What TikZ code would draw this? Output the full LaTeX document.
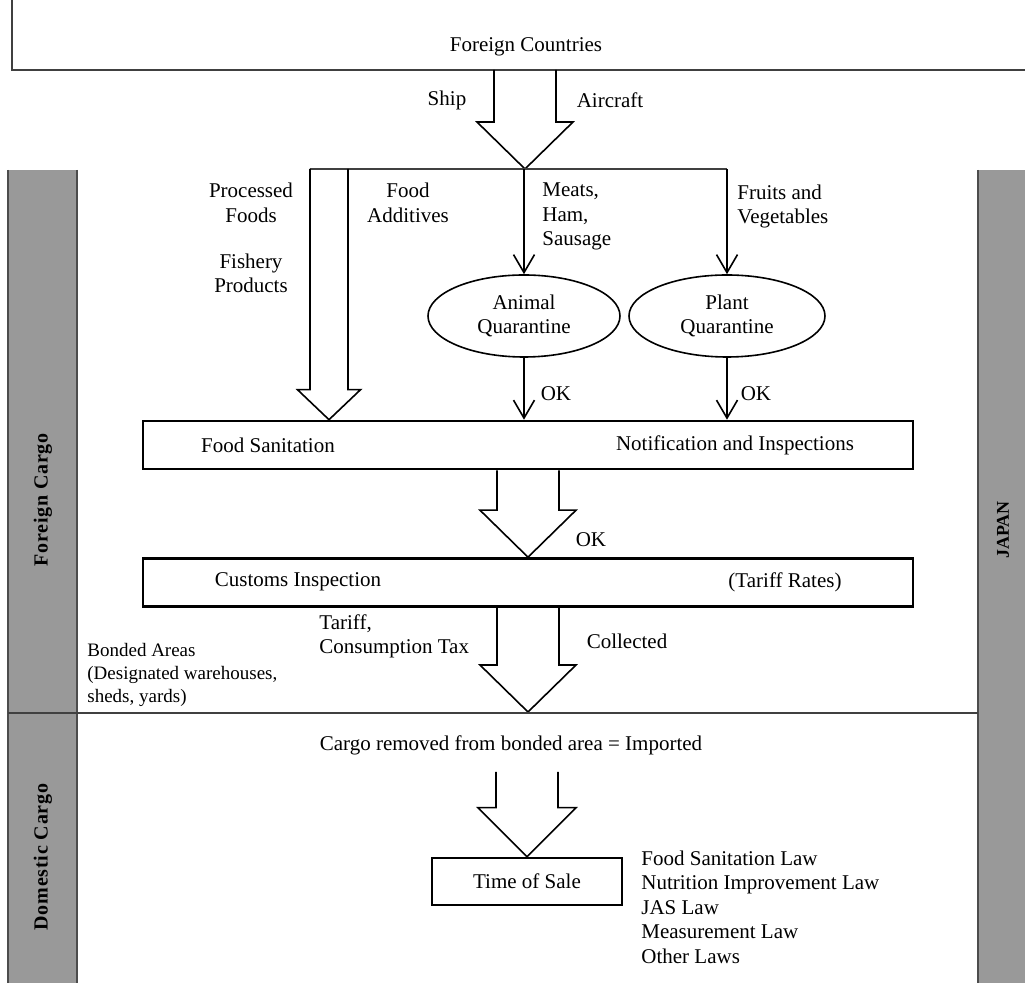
\documentclass[tikz,border=0pt]{standalone}
\usepackage{fontspec}
\setmainfont{Liberation Serif}
\newfontfamily\spacedfont[LetterSpace=4]{Liberation Serif}
\usetikzlibrary{shapes.geometric,arrows.meta,calc}

% hollow block arrow: start, tip, half shaft, half head, head length
\newcommand{\hollowarrow}[5]{%
  \draw[hollow] let \p1=(#1), \p2=(#2) in
    (\x2-#3,\y1) -- (\x2-#3,\y2+#5) -- (\x2-#4,\y2+#5) -- (\x2,\y2)
    -- (\x2+#4,\y2+#5) -- (\x2+#3,\y2+#5) -- (\x2+#3,\y1);
}

\begin{document}
\begin{tikzpicture}[x=0.5pt, y=-0.5pt,
  every node/.style={font=\fontsize{10.5}{12.25}\selectfont, inner sep=0pt, align=center},
  frame/.style={draw=black!75, line width=0.8pt},
  barfill/.style={fill=black!40},
  baredge/.style={draw=black!70, line width=0.9pt},
  sidelabel/.style={rotate=90, font=\spacedfont\bfseries\fontsize{10}{11}\selectfont},
  box/.style={draw, line width=1.3pt, minimum height=24pt},
  quarantine/.style={draw, ellipse, line width=0.8pt, minimum width=96pt, minimum height=41pt},
  hollow/.style={line width=0.8pt, line join=miter},
  flow/.style={line width=0.8pt, -{Straight Barb[length=9pt,width=10.5pt]}},
  note/.style={font=\fontsize{9.5}{11.5}\selectfont, align=left}
]
    \useasboundingbox (0,0) rectangle (1025,983);

    % side bars
    \fill[barfill] (8,170) rectangle (77,983);
    \draw[baredge] (8,170) -- (8,983);
    \draw[baredge] (77,170) -- (77,983);
    \fill[barfill] (978,170) rectangle (1025,983);
    \draw[baredge] (978,170) -- (978,983);
    \node[sidelabel] (foreign-cargo) at (43,500) {Foreign Cargo};
    \node[sidelabel] (domestic-cargo) at (43,857) {Domestic Cargo};
    \node[rotate=90, font=\bfseries\fontsize{9}{10}\selectfont] (japan) at (1003,530) {JAPAN};

    % foreign countries
    \draw[frame] (12,0) -- (12,70) -- (1025,70);
    \node (fc) at (526,47) {Foreign Countries};
    \coordinate (fc-out) at (525,70);
    \coordinate (split) at (525,169);
    \node (ship) at (447,100) {Ship};
    \node (aircraft) at (610,100) {Aircraft};
    \hollowarrow{fc-out}{split}{15.5pt}{24pt}{23.5pt}

    % branches
    \coordinate (branch-l) at (310,169);
    \coordinate (branch-r) at (727,169);
    \coordinate (pf-top) at (329,169);
    \coordinate (meat-top) at (524,169);
    \draw[frame] (branch-l) -- (branch-r);

    \node (processed) at (251,203) {Processed\\Foods};
    \node (fishery) at (251,273.5) {Fishery\\Products};
    \node (additives) at (408,203) {Food\\Additives};
    \node[anchor=west, align=left] (meats) at (542,216.5) {Meats,\\Ham,\\Sausage};
    \node[anchor=west, align=left] (fruits) at (737,206.5) {Fruits and\\Vegetables};

    \node[quarantine] (animal) at (524,316) {Animal\\Quarantine};
    \node[quarantine, minimum width=98pt] (plant) at (727,316) {Plant\\Quarantine};

    % food sanitation
    \node[box, minimum width=385pt] (foodbox) at (528,445) {};
    \node (sanitation) at (268,445) {Food Sanitation};
    \node (notification) at (735,445) {Notification and Inspections};

    \draw[flow] (meat-top) -- (animal);
    \draw[flow] (branch-r) -- (plant);
    \draw[flow] (animal) -- (animal |- foodbox.north);
    \draw[flow] (plant) -- (plant |- foodbox.north);
    \node (ok-animal) at (556,394) {OK};
    \node (ok-plant) at (756,394) {OK};
    \hollowarrow{pf-top}{pf-top |- foodbox.north}{9.5pt}{15.75pt}{15pt}

    % customs
    \node[box, minimum width=385pt] (customs) at (528,582.5) {};
    \node (inspection) at (298,582) {Customs Inspection};
    \node (tariffrates) at (785,582) {(Tariff Rates)};
    \hollowarrow{foodbox.south}{customs.north}{15.5pt}{24pt}{23.5pt}
    \node (ok-food) at (591,540) {OK};

    \coordinate (bond) at (528,712);
    \hollowarrow{customs.south}{bond}{15.5pt}{24pt}{23.5pt}
    \node[anchor=west, align=left] (tariff) at (319,636.5) {Tariff,\\Consumption Tax};
    \node (collected) at (627,641) {Collected};
    \node[note, anchor=west] (bonded) at (87,675) {Bonded Areas\\(Designated warehouses,\\sheds, yards)};

    \draw[frame] (8,713) -- (978,713);

    % domestic
    \node (imported) at (511,745) {Cargo removed from bonded area = Imported};
    \coordinate (imp-top) at (527,772);
    \node[box, minimum width=95pt, minimum height=23.5pt] (sale) at (527,881.5) {Time of Sale};
    \hollowarrow{imp-top}{sale.north}{15.5pt}{24.5pt}{24.5pt}
    \node[anchor=west, align=left] (laws) at (641,907) {Food Sanitation Law\\Nutrition Improvement Law\\JAS Law\\Measurement Law\\Other Laws};
\end{tikzpicture}
\end{document}
